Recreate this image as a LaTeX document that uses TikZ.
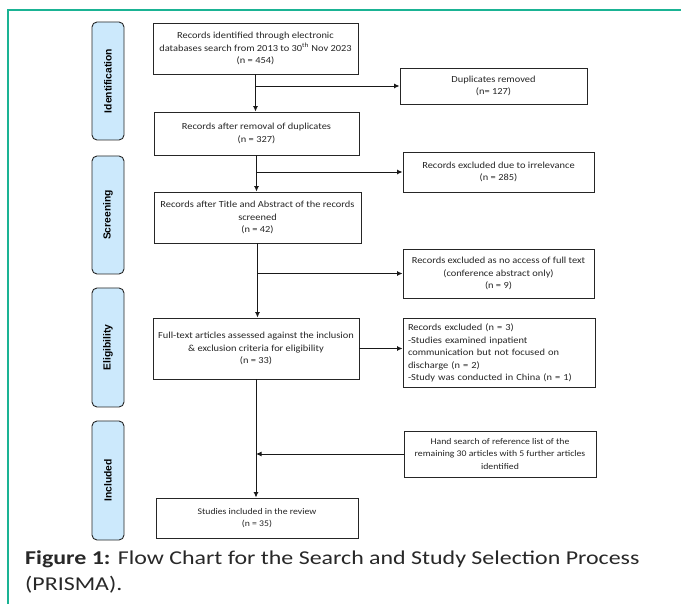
\documentclass[tikz,border=0pt]{standalone}
\usepackage{fontspec}
\setmainfont{Carlito}
\newfontfamily\boxfont[FakeStretch=1.12]{Carlito}
\newfontfamily\capfont[FakeStretch=1.22]{Carlito}
\newfontfamily\labelfont{Liberation Sans}
\usetikzlibrary{arrows.meta}
\definecolor{teal1}{RGB}{26,179,148}
\definecolor{stagefill}{RGB}{204,233,252}
\definecolor{capgray}{RGB}{40,40,40}
\tikzset{
  flowbox/.style={draw=black!85, line width=0.9pt, inner sep=2pt, align=center,
    font=\boxfont\fontsize{9.3}{12.6}\selectfont, text=black!85},
  stagebox/.style={draw=black!85, line width=0.9pt, fill=stagefill, rounded corners=5pt,
    rotate=90, minimum height=32pt, inner sep=0pt,
    font=\labelfont\bfseries\fontsize{10.3}{12}\selectfont},
  conn/.style={line width=0.9pt, draw=black!90},
  arr/.style={conn, -{Latex[length=5.5pt,width=5pt]}},
  captext/.style={anchor=base west, inner sep=0pt, text=capgray, font=\capfont\fontsize{19.6}{24}\selectfont}
}
\begin{document}
\begin{tikzpicture}[x=1pt,y=-1pt]
\useasboundingbox[fill=white] (0,0) rectangle (681,604);
% frame
\draw[teal1, line width=2pt] (681,10) -- (8,10) -- (8,604);

% stage labels
\node[stagebox, minimum width=118pt] (sid) at (108,81) {Identification};
\node[stagebox, minimum width=118pt] (ssc) at (108,215) {Screening};
\node[stagebox, minimum width=119pt] (sel) at (108,347.5) {Eligibility};
\node[stagebox, minimum width=119pt] (sin) at (108,480.5) {Included};

% main boxes
\node[flowbox, minimum width=205pt, minimum height=51pt] (b1) at (255.5,48.5)
  {Records identified through electronic\\databases search from 2013 to 30\textsuperscript{th} Nov 2023\\(n = 454)};
\node[flowbox, minimum width=205pt, minimum height=43pt] (b2) at (256.5,133.5)
  {Records after removal of duplicates\\(n = 327)};
\node[flowbox, minimum width=207pt, minimum height=51pt] (b3) at (257.5,217.5)
  {Records after Title and Abstract of the records\\screened\\(n = 42)};
\node[flowbox, minimum width=206pt, minimum height=61pt] (b4) at (256,348.5)
  {Full-text articles assessed against the inclusion\\\& exclusion criteria for eligibility\\(n = 33)};
\node[flowbox, minimum width=202pt, minimum height=40pt, font=\boxfont\fontsize{8.7}{12.6}\selectfont] (b5) at (257,518)
  {Studies included in the review\\(n = 35)};

% side boxes
\node[flowbox, minimum width=187pt, minimum height=36pt] (dup) at (493.5,86)
  {Duplicates removed\\(n= 127)};
\node[flowbox, minimum width=191pt, minimum height=40pt] (ex1) at (498.5,172)
  {Records excluded due to irrelevance\\(n = 285)};
\node[flowbox, minimum width=191pt, minimum height=49pt] (ex2) at (498.5,273.5)
  {Records excluded as no access of full text\\(conference abstract only)\\(n = 9)};
\node[flowbox, minimum width=192pt, minimum height=69pt, align=left, text width=182pt, inner sep=4pt] (ex3) at (499,353)
  {Records excluded (n = 3)\\-Studies examined inpatient\\communication but not focused on\\discharge (n = 2)\\-Study was conducted in China (n = 1)};
\node[flowbox, minimum width=192pt, minimum height=46pt, font=\boxfont\fontsize{8.7}{12.4}\selectfont] (hs) at (500,454)
  {Hand search of reference list of the\\remaining 30 articles with 5 further articles\\identified};

% vertical flow
\draw[arr] (b1.south) -- (b1.south |- b2.north);
\draw[arr] (b2.south) -- (b2.south |- b3.north);
\draw[arr] (b3.south) -- (b3.south |- b4.north);
\draw[arr] (b4.south) -- (b4.south |- b5.north);

% branches
\draw[arr] (b1.south |- dup.west) -- (dup.west);
\draw[arr] (b2.south |- ex1.west) -- (ex1.west);
\draw[arr] (b3.south |- ex2.west) -- (ex2.west);
\draw[arr] (b4.east) -- (b4.east -| ex3.west);
\draw[arr] (hs.west) -- (hs.west -| b4.south);

% caption
\node[captext] (cap1) at (25,564)
  {\textbf{Figure 1:} Flow Chart for the Search and Study Selection Process};
\node[captext] (cap2) at (25,590) {(PRISMA).};
\end{tikzpicture}
\end{document}
